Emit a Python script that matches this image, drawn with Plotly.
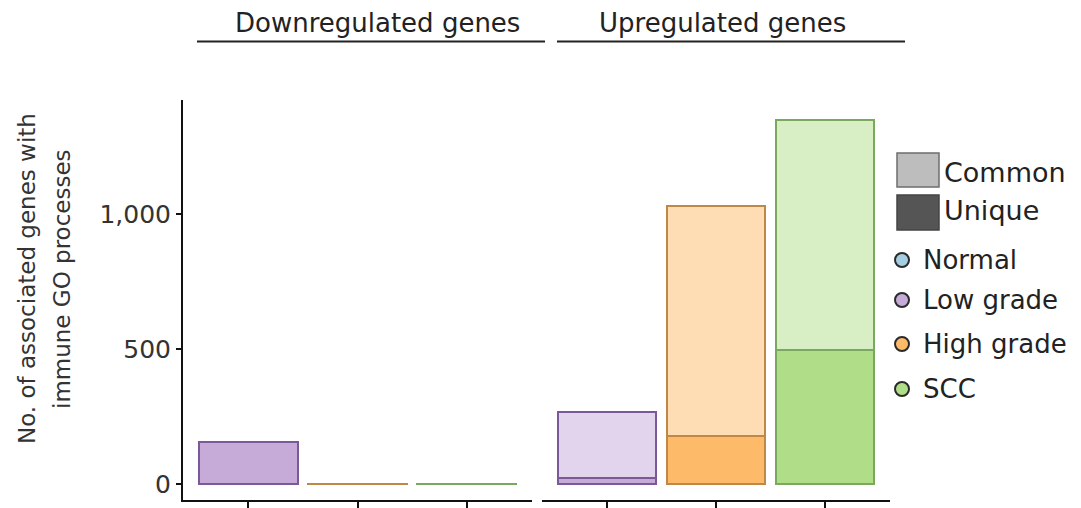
import plotly.graph_objects as go

# Categories and counts (stacked: unique at the bottom, common on top)
groups = ["Low grade", "High grade", "SCC"]
down_unique = [158, 2, 2]
down_common = [0, 0, 0]
up_unique = [22, 179, 497]
up_common = [247, 852, 852]

y_tick_vals = [0, 500, 1000]
y_tick_text = ["0", "500", "1,000"]

panel_titles = ["Downregulated genes", "Upregulated genes"]
fill_keys = ["Common", "Unique"]
status_keys = ["Normal", "Low grade", "High grade", "SCC"]

W, H = 1081, 508
FONT = "DejaVu Sans"

base = {"Normal": "#a6cee3", "Low grade": "#c6aad8", "High grade": "#fdbb69", "SCC": "#b0de88"}
edge = {"Normal": "#5a8aa3", "Low grade": "#7b5898", "High grade": "#c08848", "SCC": "#7aa85e"}


def lighten(hex_color, a=0.5):
    r, g, b = (int(hex_color[i:i + 2], 16) for i in (1, 3, 5))
    mix = lambda c: round(c * a + 255 * (1 - a))
    return "#{:02x}{:02x}{:02x}".format(mix(r), mix(g), mix(b))


def px_x(x):
    return x / W


def px_y(y):
    return 1 - y / H


fig = go.Figure()

for unique, common, xa, ya in [(down_unique, down_common, "x", "y"), (up_unique, up_common, "x2", "y2")]:
    fig.add_trace(go.Bar(
        x=groups, y=unique, xaxis=xa, yaxis=ya, width=0.9,
        marker=dict(color=[base[g] for g in groups],
                    line=dict(color=[edge[g] for g in groups], width=2)),
        hoverinfo="skip", showlegend=False,
    ))
    fig.add_trace(go.Bar(
        x=groups, y=common, xaxis=xa, yaxis=ya, width=0.9,
        marker=dict(color=[lighten(base[g]) for g in groups],
                    line=dict(color=[edge[g] for g in groups], width=2)),
        hoverinfo="skip", showlegend=False,
    ))

xcommon = dict(type="category", categoryorder="array", categoryarray=groups,
               range=[-0.6, 2.6], showline=True, linecolor="#111", linewidth=2,
               ticks="outside", ticklen=9, tickwidth=1.6, tickcolor="#111",
               showticklabels=False, showgrid=False, zeroline=False, fixedrange=True)
ydomain = [px_y(500), px_y(100)]
yrange = [-58, 1423]

fig.update_layout(
    width=W, height=H,
    margin=dict(l=0, r=0, t=0, b=0),
    paper_bgcolor="white", plot_bgcolor="white",
    barmode="stack",
    font=dict(family=FONT, color="#333"),
    xaxis=dict(domain=[px_x(183), px_x(532)], anchor="y", **xcommon),
    xaxis2=dict(domain=[px_x(542), px_x(890)], anchor="y2", **xcommon),
    yaxis=dict(domain=ydomain, anchor="x", range=yrange,
               tickvals=y_tick_vals, ticktext=y_tick_text,
               ticks="outside", ticklen=5, tickwidth=1.6, tickcolor="#111",
               tickfont=dict(family=FONT, size=25, color="#333"),
               showline=True, linecolor="#111", linewidth=2,
               showgrid=False, zeroline=False, fixedrange=True),
    yaxis2=dict(domain=ydomain, anchor="x2", range=yrange, showline=False,
                showticklabels=False, ticks="", showgrid=False, zeroline=False,
                fixedrange=True),
)

annotations = []
shapes = []

# Panel headers with rules underneath
for title, cx, x0, x1 in [(panel_titles[0], 377, 197, 545), (panel_titles[1], 722, 557, 905)]:
    annotations.append(dict(text=title, x=px_x(cx), y=px_y(23), xref="paper", yref="paper",
                            xanchor="center", yanchor="middle", showarrow=False,
                            font=dict(family=FONT, size=26, color="#222")))
    shapes.append(dict(type="line", xref="paper", yref="paper",
                       x0=px_x(x0), x1=px_x(x1), y0=px_y(41.5), y1=px_y(41.5),
                       line=dict(color="#222", width=2)))

# Y-axis title, two lines
for txt, cx in [("No. of associated genes with", 27), ("immune GO processes", 62)]:
    annotations.append(dict(text=txt, x=px_x(cx), y=px_y(279), xref="paper", yref="paper",
                            xanchor="center", yanchor="middle", textangle=-90, showarrow=False,
                            font=dict(family=FONT, size=23, color="#333")))

# Fill legend (Common / Unique)
for key, (y0, y1), fill, line, ty in [(fill_keys[0], (153, 187), "#bdbdbd", "#6e6e6e", 172),
                                       (fill_keys[1], (195, 230), "#555555", "#444444", 211)]:
    shapes.append(dict(type="rect", xref="paper", yref="paper",
                       x0=px_x(897), x1=px_x(939), y0=px_y(y1), y1=px_y(y0),
                       fillcolor=fill, line=dict(color=line, width=1.5)))
    annotations.append(dict(text=key, x=px_x(942), y=px_y(ty), xref="paper", yref="paper",
                            xanchor="left", yanchor="middle", showarrow=False,
                            font=dict(family=FONT, size=27, color="#222")))

# Status legend (circles)
for key, cy in zip(status_keys, [260, 300, 344, 389]):
    r = 7
    shapes.append(dict(type="circle", xref="paper", yref="paper",
                       x0=px_x(902 - r), x1=px_x(902 + r), y0=px_y(cy + r), y1=px_y(cy - r),
                       fillcolor=base[key], line=dict(color="#2a2a2a", width=2)))
    annotations.append(dict(text=key, x=px_x(921), y=px_y(cy), xref="paper", yref="paper",
                            xanchor="left", yanchor="middle", showarrow=False,
                            font=dict(family=FONT, size=26, color="#222")))

fig.update_layout(annotations=annotations, shapes=shapes)

fig.write_html("out.html", config={"displayModeBar": False})
